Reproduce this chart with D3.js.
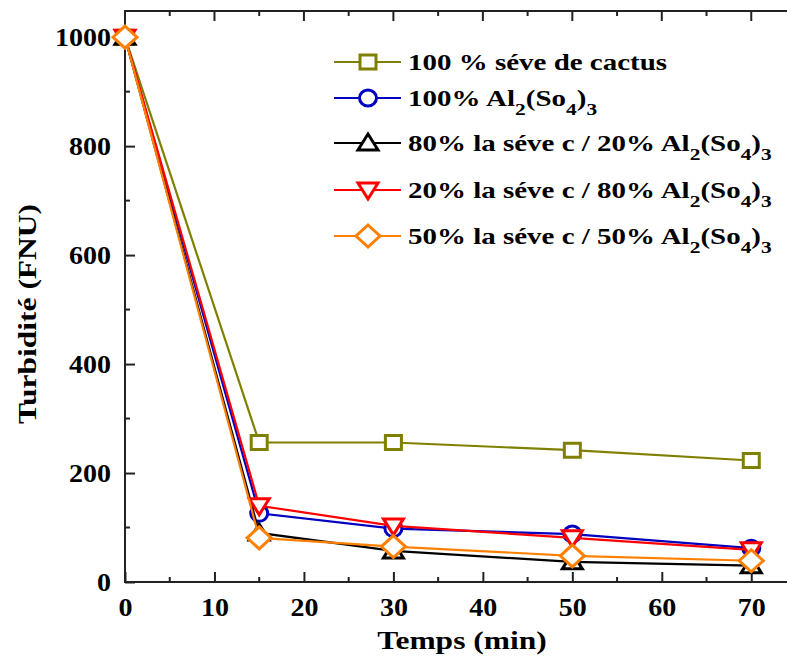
<!DOCTYPE html>
<html>
<head>
<meta charset="utf-8">
<script src="https://cdn.jsdelivr.net/npm/d3@7"></script>
<style>
  html, body { margin: 0; padding: 0; background: #fff; }
  svg { display: block; font-family: "Liberation Serif", "Times New Roman", serif; font-weight: bold; }
</style>
</head>
<body>
<svg id="chart" width="787" height="659"></svg>
<script>
// Turbidity over time for each coagulant mix
const times = [0, 15, 30, 50, 70];
const seve100 = [1000, 256, 256, 242, 223];
const alum100 = [1000, 126, 98, 88, 62];
const mix80_20 = [1000, 90, 57, 37, 30];
const mix20_80 = [1000, 140, 103, 81, 59];
const mix50_50 = [1000, 81, 65, 48, 39];

const xTicks = [0, 10, 20, 30, 40, 50, 60, 70];
const yTicks = [0, 200, 400, 600, 800, 1000];

const series = [
  { name: [["100 % séve de cactus"]], values: seve100, color: "#808000", shape: "square" },
  { name: [["100% Al"], ["2", "sub"], ["(So"], ["4", "sub"], [")"], ["3", "sub"]], values: alum100, color: "#0000c0", shape: "circle" },
  { name: [["80% la séve c / 20% Al"], ["2", "sub"], ["(So"], ["4", "sub"], [")"], ["3", "sub"]], values: mix80_20, color: "#000000", shape: "up" },
  { name: [["20% la séve c / 80% Al"], ["2", "sub"], ["(So"], ["4", "sub"], [")"], ["3", "sub"]], values: mix20_80, color: "#ff0000", shape: "down" },
  { name: [["50% la séve c / 50% Al"], ["2", "sub"], ["(So"], ["4", "sub"], [")"], ["3", "sub"]], values: mix50_50, color: "#ff8000", shape: "diamond" }
];

const svg = d3.select("#chart");
const mLeft = 125, mTop = 11, mBottom = 582, mRight = 796;
const wide = 1.26; // horizontal stretch of the lettering

const x = d3.scaleLinear().domain([0, 75]).range([mLeft, mRight]);
const y = d3.scaleLinear().domain([0, 1048]).range([mBottom, mTop]);

// frame lines
const frame = svg.append("g").attr("stroke", "#222").attr("stroke-width", 2).attr("fill", "none");
frame.append("path").attr("d", `M${mLeft},${mTop}H${mRight}V${mBottom}H${mLeft}Z`);

// bottom axis (ticks inward)
const xAxis = d3.axisBottom(x).tickValues(xTicks).tickSize(-10).tickPadding(16).tickFormat(d3.format("d"));
const gx = svg.append("g").attr("transform", `translate(0,${mBottom})`).call(xAxis);
gx.select(".domain").remove();
gx.selectAll(".tick line").attr("stroke", "#222").attr("stroke-width", 2);
gx.selectAll("text").attr("font-family", "Liberation Serif").attr("font-weight", "bold")
  .attr("font-size", 25).attr("fill", "#000")
  .attr("transform", "scale(1.12,1)");
// minor x ticks
const xMinor = d3.range(5, 75, 10);
svg.append("g").selectAll("line").data(xMinor).join("line")
  .attr("x1", d => x(d)).attr("x2", d => x(d)).attr("y1", mBottom).attr("y2", mBottom - 5)
  .attr("stroke", "#222").attr("stroke-width", 2);
// top mirrored ticks
svg.append("g").selectAll("line").data(xTicks.concat(xMinor)).join("line")
  .attr("x1", d => x(d)).attr("x2", d => x(d)).attr("y1", mTop)
  .attr("y2", d => mTop + (d % 10 === 0 ? 10 : 5))
  .attr("stroke", "#222").attr("stroke-width", 2);

// left axis (ticks inward)
const yAxis = d3.axisLeft(y).tickValues(yTicks).tickSize(-10).tickPadding(16).tickFormat(d3.format("d"));
const gy = svg.append("g").attr("transform", `translate(${mLeft},0)`).call(yAxis);
gy.select(".domain").remove();
gy.selectAll(".tick line").attr("stroke", "#222").attr("stroke-width", 2);
gy.selectAll("text").attr("font-family", "Liberation Serif").attr("font-weight", "bold")
  .attr("font-size", 25).attr("fill", "#000")
  .attr("x", -14).attr("transform", "translate(-14,0) scale(1.12,1) translate(14,0)");
const yMinor = d3.range(100, 1100, 200);
svg.append("g").selectAll("line").data(yMinor).join("line")
  .attr("x1", mLeft).attr("x2", mLeft + 5).attr("y1", d => y(d)).attr("y2", d => y(d))
  .attr("stroke", "#222").attr("stroke-width", 2);

// axis titles
svg.append("text").attr("transform", `translate(462,649) scale(${wide},1)`).attr("text-anchor", "middle")
  .attr("font-size", 25).text("Temps (min)");
svg.append("text").attr("transform", `translate(36,314) rotate(-90) scale(${wide},1)`).attr("text-anchor", "middle")
  .attr("font-size", 25).text("Turbidité (FNU)");

// marker path generator
function markerPath(shape) {
  switch (shape) {
    case "square": return "M-8,-7H8V7H-8Z";
    case "circle": return "M8.5,0A8.5,8 0 1,1 -8.5,0A8.5,8 0 1,1 8.5,0Z";
    case "up": return "M0,-9L10,7H-10Z";
    case "down": return "M0,9L10,-7H-10Z";
    case "diamond": return "M0,-11L12,0L0,11L-12,0Z";
  }
}

const plot = svg.append("g");
const line = d3.line().x(d => x(d[0])).y(d => y(d[1]));
series.forEach(s => {
  const pts = times.map((t, i) => [t, s.values[i]]);
  const g = plot.append("g");
  g.append("path").datum(pts).attr("d", line).attr("fill", "none")
    .attr("stroke", s.color).attr("stroke-width", 2.2);
  g.selectAll("path.m").data(pts).join("path").attr("class", "m")
    .attr("transform", d => `translate(${x(d[0])},${y(d[1])})`)
    .attr("d", markerPath(s.shape)).attr("fill", "#fff")
    .attr("stroke", s.color).attr("stroke-width", 3);
});

// legend
const rowsY = [62, 98, 143, 190, 236];
const legend = svg.append("g");
series.forEach((s, i) => {
  const ly = rowsY[i];
  legend.append("line").attr("x1", 334).attr("x2", 401).attr("y1", ly).attr("y2", ly)
    .attr("stroke", s.color).attr("stroke-width", 2.2);
  legend.append("path").attr("transform", `translate(368,${ly})`).attr("d", markerPath(s.shape))
    .attr("fill", "#fff").attr("stroke", s.color).attr("stroke-width", 3);
  const t = legend.append("text").attr("transform", `translate(408,${ly + 8}) scale(${wide},1)`)
    .attr("font-size", 23).attr("fill", "#000");
  let shifted = false;
  s.name.forEach(part => {
    const ts = t.append("tspan").text(part[0]);
    if (part[1] === "sub") {
      ts.attr("font-size", 17).attr("dy", shifted ? 0 : 9);
      shifted = true;
    } else if (shifted) {
      ts.attr("dy", -9);
      shifted = false;
    }
  });
});
</script>
</body>
</html>
